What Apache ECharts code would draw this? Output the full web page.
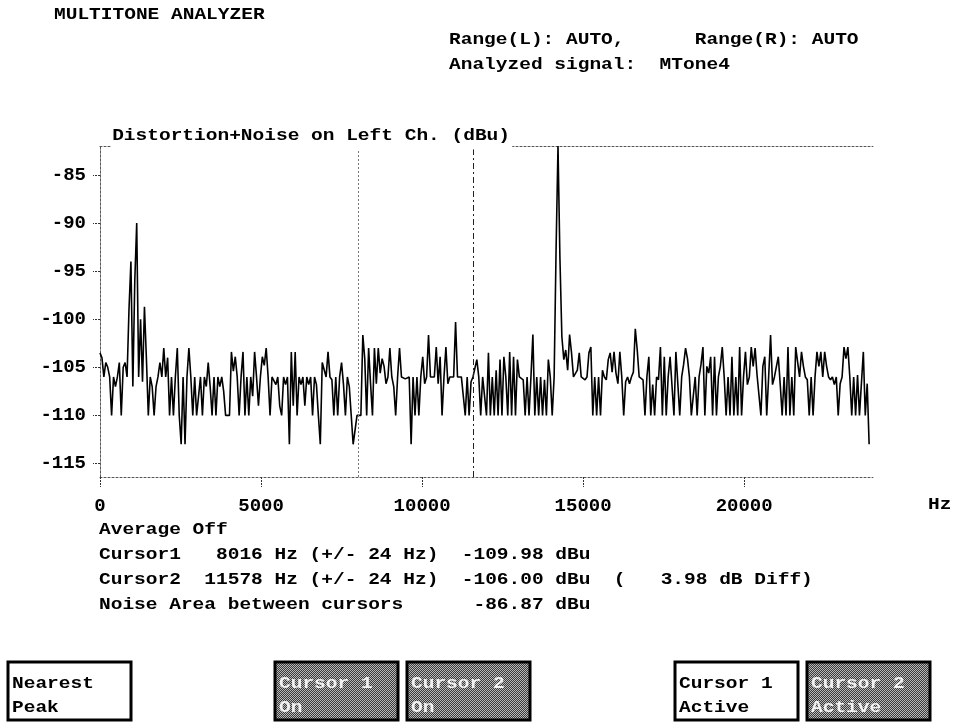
<!DOCTYPE html>
<html>
<head>
<meta charset="utf-8">
<script src="https://cdn.jsdelivr.net/npm/echarts@6/dist/echarts.min.js"></script>
<style>
html,body{margin:0;padding:0;background:#fff;}
#chart{width:954px;height:724px;}
</style>
</head>
<body>
<div id="chart"></div>
<script>
// ---------------- data ----------------
const STEP_HZ = 60;               // bin spacing of the trace
const cursor1Hz = 8016;
const cursor2Hz = 11578;
const xTicks = [0, 5000, 10000, 15000, 20000];
const yTicks = [-115, -110, -105, -100, -95, -90, -85];

// trace levels (dBu), consecutive bins, split in bands of the screen
const band1 = [ // 0 .. ~3900 Hz
 -103.5, -104, -106, -104.5, -105, -106, -110, -106, -107, -106,
 -104.5, -110, -105, -104.5, -106, -99, -94, -107, -96, -90,
 -106, -100, -106.5, -98.7, -104, -110, -106, -107, -110, -107,
 -106, -104.5, -106, -103, -106, -104, -110, -106, -110, -106,
 -103, -110, -113, -106, -113, -106, -103, -106, -110, -106,
 -110, -110, -106, -110, -106, -107, -104.5, -107, -110, -106,
 -110, -106, -107, -106, -107.5, -110];
const band2 = [ // ~3960 .. 7920 Hz
 -110, -110, -103.4, -105.4, -103.9, -106, -110, -106, -103.4, -110,
 -106, -110, -106, -108, -103.4, -106, -109, -106, -103.9, -104.8,
 -103, -106, -110, -106, -106, -106.8, -106, -109, -110, -106,
 -106.8, -106, -113, -103.4, -109, -103.4, -110, -106, -106.8, -106,
 -109, -106, -106.8, -106, -110, -106, -106.8, -110, -113, -104.5,
 -104.7, -106, -103.4, -106, -106.3, -110, -106, -110, -106, -104.5,
 -106.8, -110, -106, -107, -110, -113, -113];
const band3 = [ // ~7980 .. 11880 Hz
 -110, -110, -110, -101.65, -104.1, -110, -103, -106.7, -110, -103,
 -106.7, -103, -105.6, -104.1, -104.9, -106.7, -106, -103, -106, -107,
 -110, -106, -103, -106, -106, -106.2, -106, -106, -113, -106,
 -110, -106, -110, -106, -103.9, -106.7, -106, -101.65, -106, -106,
 -106, -102.9, -106.7, -103.9, -110, -106, -102.9, -106.7, -106, -106,
 -106, -100.3, -106, -106, -106, -108, -110, -106, -110, -106.5,
 -106, -106, -104.2, -106, -110, -106];
const band4 = [ // ~11940 .. 15900 Hz (main tone)
 -106, -110, -103.5, -110, -106, -110, -105.3, -110, -104.2, -110,
 -103.9, -106, -110, -103.4, -110, -103.9, -110, -104.2, -106, -106,
 -106.3, -110, -106, -110, -106, -101.6, -110, -106, -110, -106,
 -110, -106.3, -110, -104.2, -106, -110, -106,
 -92.8, -82, -93.7,
 -101.8, -104.2, -103.2, -105.3, -101.6, -103.5, -106, -106, -105.3, -103.5,
 -106, -106, -106.3, -106, -103.5, -102.9, -110, -106, -110, -106,
 -110, -105.3, -106, -106.3, -104.2, -103.5, -105.5];
const band5 = [ // ~15960 .. 19860 Hz
 -103.4, -105.6, -106.7, -103.4, -106, -110, -106.5, -106, -106.7, -106,
 -105.5, -101, -103.2, -106, -106, -106.3, -110, -106, -103.9, -110,
 -106.8, -110, -106, -106.3, -102.9, -110, -103.9, -110, -106, -103.9,
 -104, -110, -103.4, -103.4, -110, -106, -104.7, -103, -104.1, -106,
 -110, -110, -106, -110, -106, -104.7, -102.9, -110, -104.9, -105.6,
 -103.9, -110, -103.9, -110, -106, -104.9, -102.9, -106, -110, -106,
 -110, -103.9, -110, -106, -110, -102.9];
const band6 = [ // ~19920 .. 23880 Hz
 -110, -106, -103.4, -106.8, -106, -102.9, -104.9, -103, -105.8, -106,
 -110, -104.9, -103.9, -110, -106, -101.65, -106.8, -106, -106, -103.9,
 -106.8, -110, -106, -110, -102.9, -110, -106, -110, -102.9, -103,
 -106, -103.4, -104.9, -106, -106.3, -110, -106, -110, -106, -103.4,
 -104.9, -103.4, -106, -103.4, -104.9, -106, -106.3, -106, -106.8, -106,
 -110, -106.7, -106, -102.9, -104.1, -102.9, -106, -110, -106, -110,
 -105.8, -110, -110, -103.4, -110, -106.7, -113];

const headerLines = ['MULTITONE ANALYZER', 'Range(L): AUTO,      Range(R): AUTO', 'Analyzed signal:  MTone4'];
const infoLines = [
  'Average Off',
  'Cursor1   8016 Hz (+/- 24 Hz)  -109.98 dBu',
  'Cursor2  11578 Hz (+/- 24 Hz)  -106.00 dBu  (   3.98 dB Diff)',
  'Noise Area between cursors      -86.87 dBu'
];
const plotTitle = 'Distortion+Noise on Left Ch. (dBu)';
const buttons = [
  {lines: ['Nearest', 'Peak'], hatched: false},
  {lines: ['Cursor 1', 'On'], hatched: true},
  {lines: ['Cursor 2', 'On'], hatched: true},
  {lines: ['Cursor 1', 'Active'], hatched: false},
  {lines: ['Cursor 2', 'Active'], hatched: true}
];

// ---------------- build ----------------
const levels = [].concat(band1, band2, band3, band4, band5, band6);
const traceData = levels.map((v, i) => [i * STEP_HZ, v]);

const FONT = 'bold 17px "Liberation Mono", monospace';
const SX = 1.147;
const MONO = '"Liberation Mono", monospace';

function txt(str, x, y, fill, z) {
  return {type: 'text', x: x, y: y, scaleX: SX, z: z || 100,
    style: {text: str, font: FONT, fill: fill || '#000', verticalAlign: 'middle', align: 'left'}};
}

// hatch pattern for "on" buttons
const pc = document.createElement('canvas');
pc.width = 2; pc.height = 2;
const pctx = pc.getContext('2d');
pctx.fillStyle = '#3a3a3a'; pctx.fillRect(0, 0, 2, 2);
pctx.fillStyle = '#b8b8b8'; pctx.fillRect(0, 0, 1, 1); pctx.fillRect(1, 1, 1, 1);

const graphics = [];
graphics.push(txt(headerLines[0], 54, 15));
graphics.push(txt(headerLines[1], 449, 40));
graphics.push(txt(headerLines[2], 449, 65));
infoLines.forEach((s, k) => graphics.push(txt(s, 99, 530 + 25 * k)));
graphics.push(txt('Hz', 928, 505));
// plot title sitting on the top frame line
graphics.push({type: 'text', x: 111, y: 136, scaleX: SX, z: 100,
  style: {text: plotTitle, font: FONT, fill: '#000', verticalAlign: 'middle', align: 'left',
          backgroundColor: '#fff', padding: [4, 2, 6, 1]}});

const btnX = [8, 275, 407, 675, 807];
const btnW = 123, btnY = 662, btnH = 58;
buttons.forEach((b, k) => {
  graphics.push({type: 'rect', z: 100,
    shape: {x: btnX[k], y: btnY, width: btnW, height: btnH},
    style: {fill: b.hatched ? {image: pc, repeat: 'repeat'} : '#fff', stroke: '#000', lineWidth: 3}});
  b.lines.forEach((s, j) => graphics.push(txt(s, btnX[k] + 4, btnY + 22 + 24 * j, b.hatched ? '#f2f2f2' : '#000', 101)));
});

const frameLine = {show: true, lineStyle: {color: '#555', width: 1, type: [2, 2]}};

const option = {
  animation: false,
  backgroundColor: '#fff',
  grid: {left: 100, right: 81, top: 146, bottom: 247, show: false},
  xAxis: [{
    type: 'value', min: 0, max: 24000, position: 'bottom',
    axisLine: frameLine,
    axisTick: {show: true, length: 10, customValues: xTicks, lineStyle: {color: '#333', type: [2, 1]}},
    axisLabel: {customValues: xTicks, margin: 20, color: '#000', fontFamily: MONO, fontWeight: 'bold', fontSize: 19,
                formatter: v => String(v)},
    splitLine: {show: false}
  }, {
    type: 'value', min: 0, max: 24000, position: 'top',
    axisLine: frameLine, axisTick: {show: false}, axisLabel: {show: false}, splitLine: {show: false}
  }],
  yAxis: [{
    type: 'value', min: -116.4, max: -82, position: 'left',
    axisLine: frameLine,
    axisTick: {show: true, length: 7, customValues: yTicks, lineStyle: {color: '#333', type: [2, 1]}},
    axisLabel: {customValues: yTicks, margin: 14, color: '#000', fontFamily: MONO, fontWeight: 'bold', fontSize: 19,
                formatter: v => String(v)},
    splitLine: {show: false}
  }, {
    type: 'value', min: -116.4, max: -82, position: 'right',
    axisLine: frameLine, axisTick: {show: false}, axisLabel: {show: false}, splitLine: {show: false}
  }],
  series: [{
    type: 'line', xAxisIndex: 0, yAxisIndex: 0,
    data: traceData, showSymbol: false, symbol: 'none',
    lineStyle: {color: '#000', width: 1.6},
    markLine: {
      silent: true, symbol: 'none', label: {show: false},
      data: [
        {xAxis: cursor1Hz, lineStyle: {color: '#777', width: 1, type: [2, 2]}},
        {xAxis: cursor2Hz, lineStyle: {color: '#222', width: 1, type: [6, 3, 2, 3]}}
      ]
    }
  }],
  graphic: graphics
};

const chart = echarts.init(document.getElementById('chart'), null, {renderer: 'canvas'});
chart.setOption(option);
</script>
</body>
</html>
